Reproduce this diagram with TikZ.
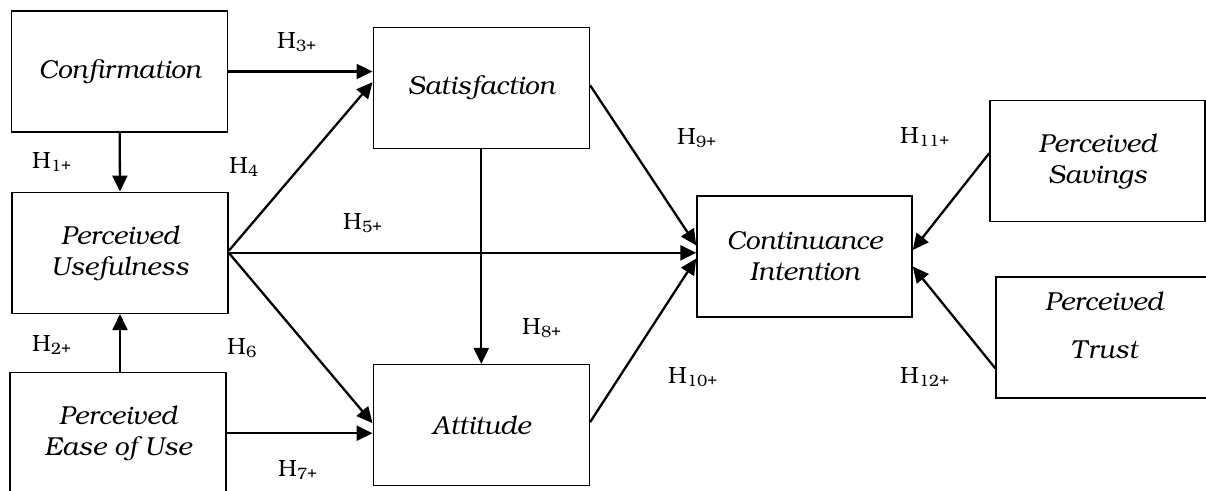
\documentclass[tikz,border=0pt]{standalone}
\usepackage[T1]{fontenc}
\usepackage{bookman}
\usetikzlibrary{arrows.meta}
\newcommand{\hyp}[1]{H\textsubscript{#1}}
\tikzset{
  box/.style={draw, line width=1.5pt, minimum width=216pt, minimum height=121pt, inner sep=0pt, align=center, font=\fontsize{26}{31}\selectfont\itshape},
  lab/.style={anchor=base west, inner sep=0pt, font=\fontsize{23.5}{28}\selectfont},
  arr/.style={line width=2.3pt, -{Triangle[length=16pt,width=15pt]}}
}
\begin{document}
\begin{tikzpicture}[x=1pt,y=-1pt]
\useasboundingbox (0,0) rectangle (1206,490);
\clip (0,0) rectangle (1206,490);
\node[box] (conf) at (119.7,71.5) {Confirmation};
\node[box] (pu) at (120,252.8) {Perceived\\Usefulness};
\node[box] (peu) at (118,433.2) {Perceived\\Ease of Use};
\node[box] (sat) at (481.3,88.2) {Satisfaction};
\node[box] (att) at (481.3,425.2) {Attitude};
\node[box, minimum width=215pt] (cont) at (804.5,256.5) {Continuance\\Intention};
\node[box, minimum width=215pt] (sav) at (1097.5,161.2) {Perceived\\Savings};
\node[box, minimum width=216pt, text depth=24pt] (trust) at (1104,337.3) {Perceived\\[17pt]Trust};

\draw[arr] (conf.east) -- (conf.east -| sat.west);
\draw[arr] (conf.south) -- (pu.north);
\draw[arr] (peu.north -| pu.south) -- (pu.south);
\draw[arr] ([yshift=2pt]pu.east) -- ([yshift=6pt]sat.west);
\draw[arr] (pu.east) -- (pu.east -| cont.west);
\draw[arr] (pu.east) -- ([yshift=2pt]att.west);
\draw[arr] (peu.east) -- (peu.east -| att.west);
\draw[arr] (sat.south) -- (att.north);
\draw[arr] ([yshift=3pt]sat.east) -- ([yshift=11pt]cont.west);
\draw[arr] ([yshift=3pt]att.east) -- ([yshift=-2pt]cont.west);
\draw[arr] ([yshift=8pt]sav.west) -- ([yshift=6.5pt]cont.east);
\draw[arr] ([yshift=-31pt]trust.west) -- ([yshift=-10pt]cont.east);

\node[lab] (h3) at (277,48) {\hyp{3+}};
\node[lab] (h1) at (32,168) {\hyp{1+}};
\node[lab] (h4) at (229,173) {\hyp{4}};
\node[lab] (h5) at (343,229) {\hyp{5+}};
\node[lab] (h2) at (32,351) {\hyp{2+}};
\node[lab] (h6) at (227,354) {\hyp{6}};
\node[lab] (h7) at (278,476) {\hyp{7+}};
\node[lab] (h9) at (677,144) {\hyp{9+}};
\node[lab] (h8) at (522,334) {\hyp{8+}};
\node[lab] (h10) at (668,383) {\hyp{10+}};
\node[lab] (h11) at (900,143) {\hyp{11+}};
\node[lab] (h12) at (900,383) {\hyp{12+}};
\end{tikzpicture}
\end{document}
